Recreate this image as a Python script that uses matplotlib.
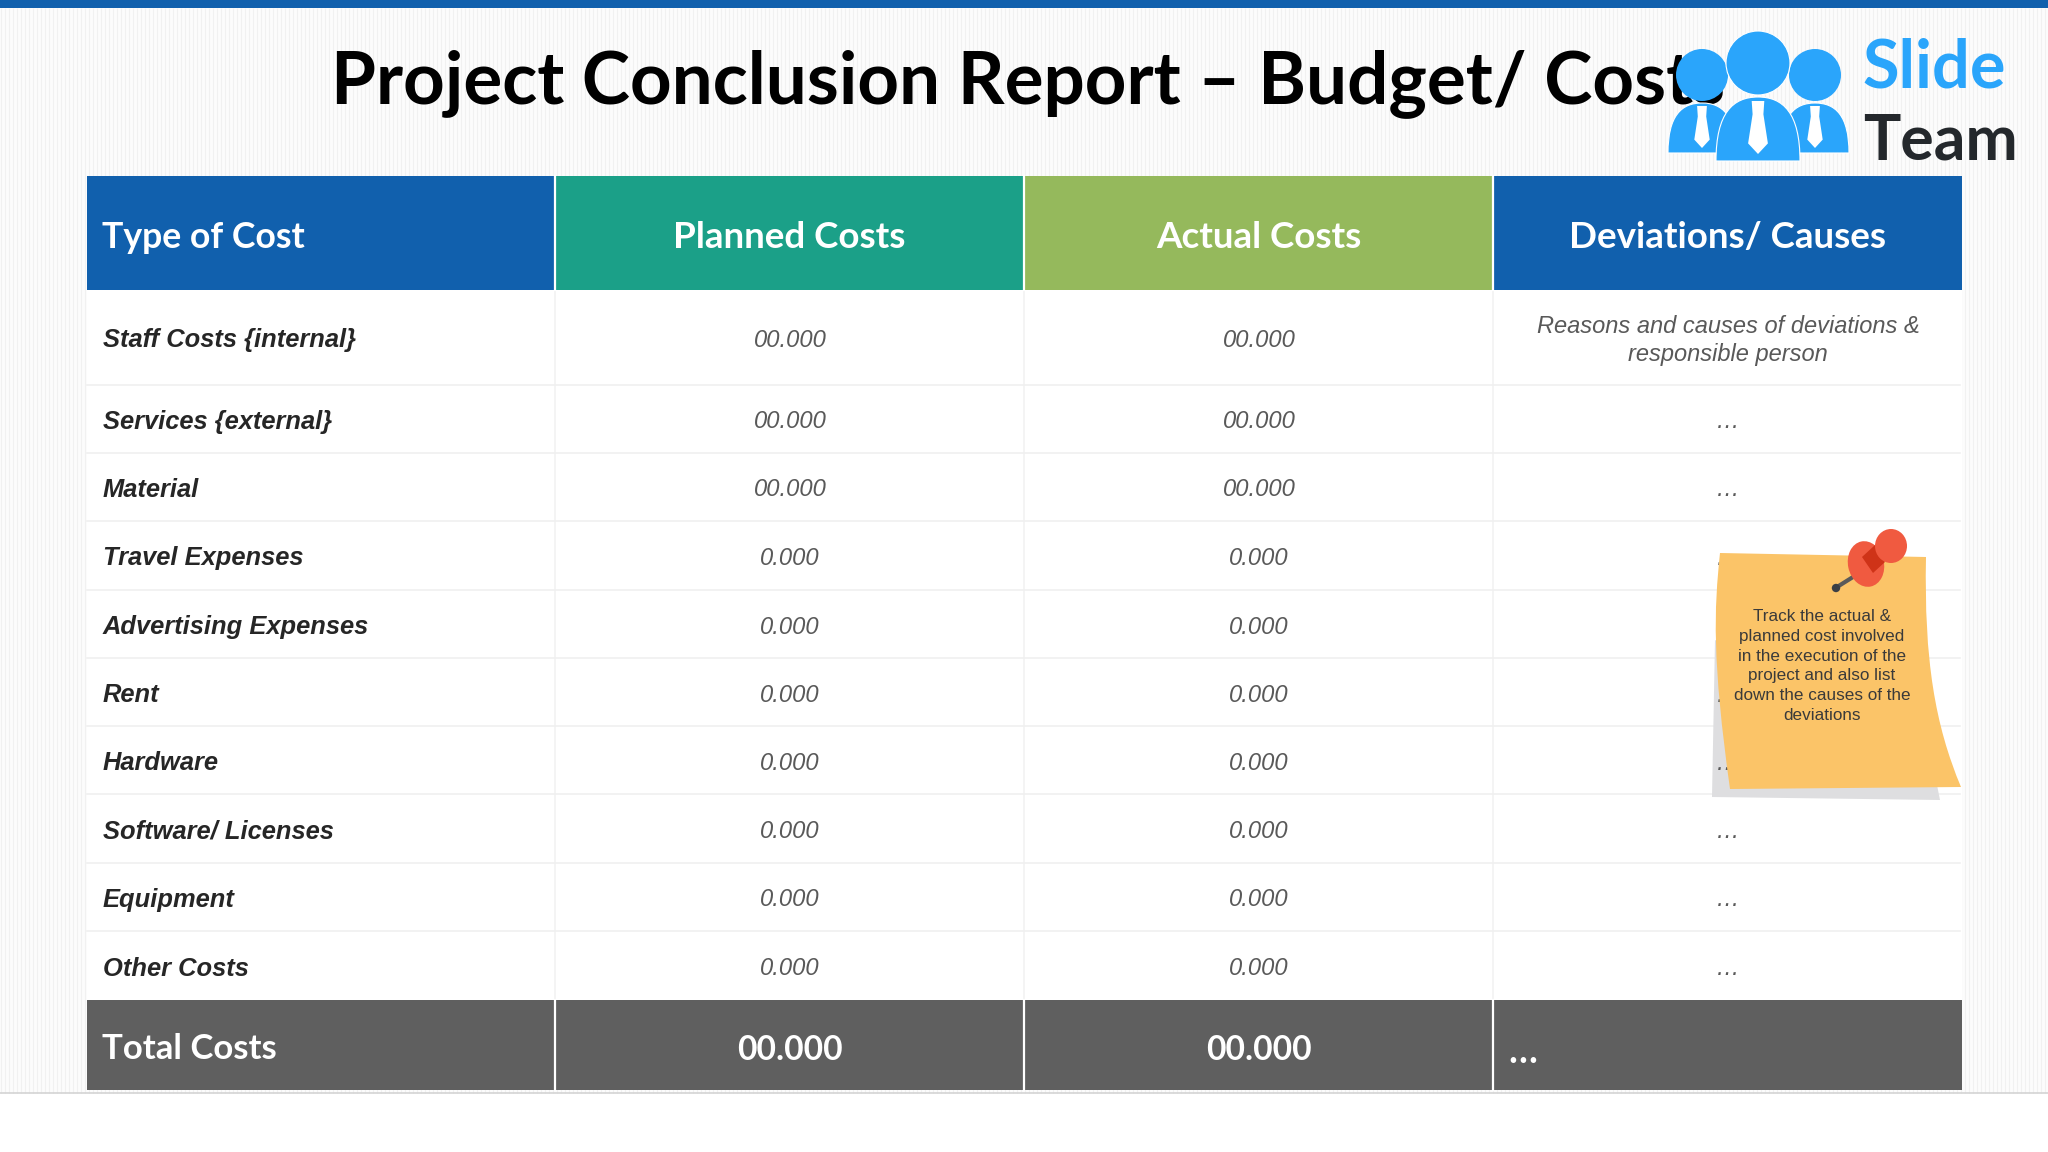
import matplotlib
matplotlib.use("Agg")
import matplotlib.pyplot as plt
from matplotlib.patches import Rectangle, Circle, Ellipse, Polygon, PathPatch
from matplotlib.path import Path
import numpy as np

title = "Project Conclusion Report – Budget/ Costs"
headers = ["Type of Cost", "Planned Costs", "Actual Costs", "Deviations/ Causes"]
cost_types = ["Staff Costs {internal}", "Services {external}", "Material", "Travel Expenses",
              "Advertising Expenses", "Rent", "Hardware", "Software/ Licenses", "Equipment", "Other Costs"]
planned = ["00.000", "00.000", "00.000", "0.000", "0.000", "0.000", "0.000", "0.000", "0.000", "0.000"]
actual = ["00.000", "00.000", "00.000", "0.000", "0.000", "0.000", "0.000", "0.000", "0.000", "0.000"]
deviations = ["Reasons and causes of deviations &\nresponsible person", "…", "…", "…", "…", "…", "…", "…", "…", "…"]
total_row = ["Total Costs", "00.000", "00.000", "…"]
note = "Track the actual &\nplanned cost involved\nin the execution of the\nproject and also list\ndown the causes of the\ndeviations"

# layout in image pixels
col_x = [87, 555, 1024, 1493, 1962]
row_y = [290, 385, 453, 521, 590, 658, 726, 794, 863, 931, 1000]
head_top, total_bot, page_bot = 176, 1090, 1093
head_colors = ["#1160ad", "#1ba088", "#95b95c", "#1160ad"]
HEAD_FONT = "Lato"
BODY_FONT = "Liberation Sans"

fig = plt.figure(figsize=(20.48, 11.52), dpi=100)
ax = fig.add_axes([0, 0, 1, 1])
ax.set_xlim(0, 2048)
ax.set_ylim(1152, 0)
ax.axis("off")

#------------------------------------------------------------------
# Page background with the faint stripes
ax.add_patch(Rectangle((0, 0), 2048, page_bot, color="#fcfcfc", lw=0, zorder=0))
ax.vlines(np.arange(1, 2048, 4), 8, page_bot, color="#f1f1f1", lw=0.8, zorder=0.5)
ax.add_patch(Rectangle((0, 0), 2048, 8, color="#1160ad", lw=0, zorder=1))
ax.plot([0, 2048], [page_bot, page_bot], color="#d4d4d4", lw=1.2, zorder=1)

ax.text(331, 84, title, fontsize=52.4, fontweight="bold", family=HEAD_FONT,
        color="black", ha="left", va="center", zorder=2)

#------------------------------------------------------------------
# Table
ax.add_patch(Rectangle((87, 290), 1875, 710, color="white", lw=0, zorder=1))
for i, h in enumerate(headers):
    x0, x1 = col_x[i], col_x[i + 1]
    ax.add_patch(Rectangle((x0, head_top), x1 - x0, 290 - head_top, color=head_colors[i], lw=0, zorder=2))
    ax.add_patch(Rectangle((x0, 1000), x1 - x0, total_bot - 1000, color="#5f5f5f", lw=0, zorder=2))
    if i == 0:
        ax.text(102, 238, h, fontsize=25.7, fontweight="bold", family=HEAD_FONT, color="white", va="center", zorder=3)
    else:
        ax.text((x0 + x1) / 2, 238, h, fontsize=26.5, fontweight="bold", family=HEAD_FONT,
                color="white", ha="center", va="center", zorder=3)

for x in col_x[1:-1]:
    ax.plot([x, x], [head_top, 290], color="white", lw=1.6, zorder=3)
    ax.plot([x, x], [290, 1000], color="#f2f2f2", lw=1.2, zorder=1.5)
    ax.plot([x, x], [1000, total_bot], color="white", lw=1.6, zorder=3)
for y in row_y[1:-1]:
    ax.plot([87, 1960], [y, y], color="#f0f0f0", lw=1.2, zorder=1.5)

for i in range(len(cost_types)):
    yc = (row_y[i] + row_y[i + 1]) / 2 + 3
    ax.text(103, yc, cost_types[i], fontsize=18.4, fontweight="bold", fontstyle="italic",
            family=BODY_FONT, color="#262626", va="center", zorder=3)
    ax.text(790, yc, planned[i], fontsize=17.1, fontstyle="italic", family=BODY_FONT,
            color="#595959", ha="center", va="center", zorder=3)
    ax.text(1259, yc, actual[i], fontsize=17.1, fontstyle="italic", family=BODY_FONT,
            color="#595959", ha="center", va="center", zorder=3)
    ax.text(1728, yc, deviations[i], fontsize=17, fontstyle="italic", family=BODY_FONT,
            color="#595959", ha="center", va="center", linespacing=1.27, zorder=3)

ax.text(102, 1049, total_row[0], fontsize=25, fontweight="bold", family=HEAD_FONT, color="white", va="center", zorder=3)
ax.text(790, 1050, total_row[1], fontsize=24.2, fontweight="bold", family=HEAD_FONT, color="white", ha="center", va="center", zorder=3)
ax.text(1259, 1050, total_row[2], fontsize=24.2, fontweight="bold", family=HEAD_FONT, color="white", ha="center", va="center", zorder=3)
ax.text(1508, 1052, total_row[3], fontsize=27, fontweight="bold", family=HEAD_FONT, color="white", va="center", zorder=3)

#------------------------------------------------------------------
# Sticky note with pin
ax.add_patch(Polygon([(1715, 640), (1712, 797), (1940, 800), (1937, 785)], color="#dedee0", lw=0, zorder=2.5))
verts = [(1720, 553), (1926, 557), (1926, 557), (1924, 660), (1935, 725), (1961, 787),
         (1730, 789), (1730, 789), (1712, 660), (1714, 610), (1720, 553)]
codes = [Path.MOVETO, Path.LINETO, Path.LINETO, Path.CURVE4, Path.CURVE4, Path.CURVE4,
         Path.LINETO, Path.LINETO, Path.CURVE4, Path.CURVE4, Path.CURVE4]
ax.add_patch(PathPatch(Path(verts, codes), facecolor="#fbc468", edgecolor="none", zorder=5))
ax.text(1822, 666, note, fontsize=12.3, family=BODY_FONT, color="#3a3a3a", ha="center", va="center",
        linespacing=1.41, zorder=6)

ax.plot([1837, 1853], [587, 577], color="#5a5a5a", lw=3, solid_capstyle="butt", zorder=6)
ax.add_patch(Circle((1836, 588), 4.2, color="#3a3f45", lw=0, zorder=6))
ax.add_patch(Ellipse((1866, 564), 36, 46, angle=-12, color="#f05a40", lw=0, zorder=6))
ax.add_patch(Polygon([(1862, 557), (1875, 545), (1885, 562), (1873, 573)], color="#cf3318", lw=0, zorder=7))
ax.add_patch(Ellipse((1891, 546), 32, 34, color="#f05a40", lw=0, zorder=8))

#------------------------------------------------------------------
# Logo
LOGO_BLUE = "#2aa5fb"

def logo_body(x0, x1, y0, y1):
    w = x1 - x0
    v = [(x0, y1), (x0, y0 + (y1 - y0) * 0.25), (x0 + w * 0.2, y0), (x0 + w / 2, y0),
         (x0 + w * 0.8, y0), (x1, y0 + (y1 - y0) * 0.25), (x1, y1), (x0, y1)]
    c = [Path.MOVETO, Path.CURVE4, Path.CURVE4, Path.CURVE4, Path.CURVE4, Path.CURVE4, Path.CURVE4, Path.CLOSEPOLY]
    return PathPatch(Path(v, c), facecolor=LOGO_BLUE, edgecolor="white", lw=0.8)

def logo_tie(xc, y0, y1, w):
    h = y1 - y0
    return Polygon([(xc - w * 0.35, y0), (xc + w * 0.35, y0), (xc + w * 0.3, y0 + h * 0.25),
                    (xc + w * 0.55, y0 + h * 0.8), (xc, y1), (xc - w * 0.55, y0 + h * 0.8),
                    (xc - w * 0.3, y0 + h * 0.25)], color="white", lw=0)

for xc in [1702, 1815]:
    body = logo_body(xc - 34, xc + 34, 103, 153)
    body.set_zorder(9)
    ax.add_patch(body)
    tie = logo_tie(xc, 106, 148, 14)
    tie.set_zorder(9.5)
    ax.add_patch(tie)
    ax.add_patch(Circle((xc, 75), 26, color=LOGO_BLUE, lw=0, zorder=9.5))
body = logo_body(1716, 1800, 97, 161)
body.set_zorder(10)
ax.add_patch(body)
tie = logo_tie(1758, 101, 154, 18)
tie.set_zorder(10.5)
ax.add_patch(tie)
ax.add_patch(Circle((1758, 63), 32, facecolor=LOGO_BLUE, edgecolor="white", lw=0.8, zorder=10))

ax.text(1862, 88, "Slide", fontsize=48, fontweight="bold", family=HEAD_FONT, color=LOGO_BLUE, va="baseline", zorder=10)
ax.text(1863, 160, "Team", fontsize=45, fontweight="bold", family=HEAD_FONT, color="#24282c", va="baseline", zorder=10)

fig.savefig("out.png", dpi=100, facecolor="white")
